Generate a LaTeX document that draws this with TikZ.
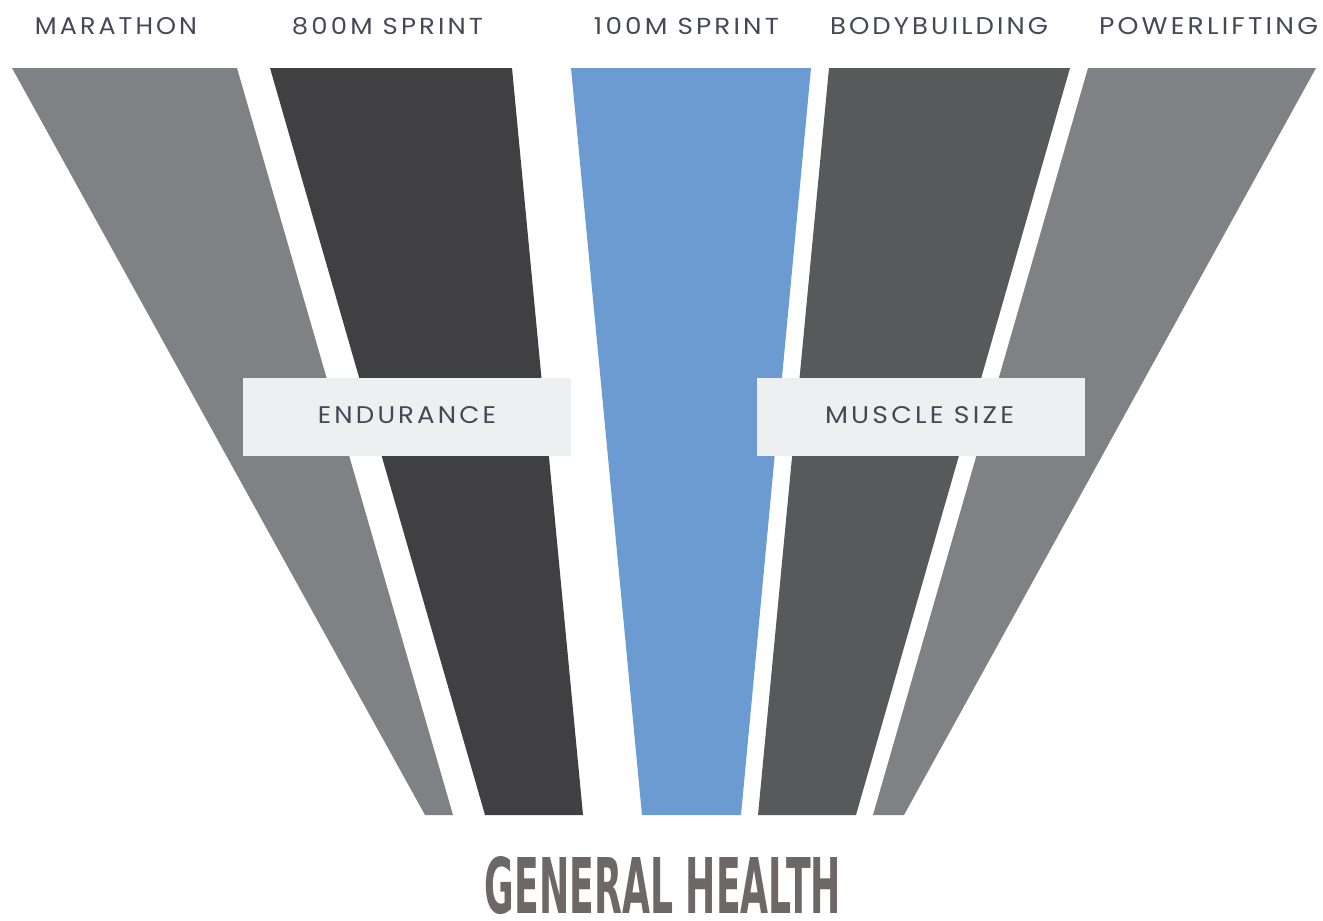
\documentclass[tikz,border=0pt]{standalone}
\usepackage{fontspec}
\usepackage{graphicx}
\setmainfont{Poppins}
\newfontfamily\lblfont[LetterSpace=12]{Poppins}
\newfontfamily\headfont{DejaVu Sans}
\definecolor{midgray}{HTML}{808184}
\definecolor{darkgray}{HTML}{404042}
\definecolor{bodygray}{HTML}{58595B}
\definecolor{sprintblue}{HTML}{6B9BD1}
\definecolor{boxgray}{HTML}{EEEFF1}
\definecolor{lbltext}{HTML}{434956}
\definecolor{healthtext}{HTML}{6D6767}
\newcommand{\fitlbl}[2]{\resizebox{#1pt}{17pt}{\lblfont #2}}
\tikzset{
  toplbl/.style={anchor=south, inner sep=0pt, text=lbltext},
  boxlbl/.style={anchor=south, inner sep=0pt, text=lbltext},
  infobox/.style={fill=boxgray, draw=none, minimum width=328pt, minimum height=78pt, inner sep=0pt},
}
\begin{document}
\begin{tikzpicture}[x=1pt,y=-1pt]
\useasboundingbox (0,0) rectangle (1323,921);
% bands
\fill[midgray]    (12,68) -- (237,68) -- (453,815) -- (425,815) -- cycle;
\fill[darkgray]   (270,68) -- (512,68) -- (583,815) -- (485,815) -- cycle;
\fill[sprintblue] (571,68) -- (811,68) -- (741,815) -- (642,815) -- cycle;
\fill[bodygray]   (829,68) -- (1070,68) -- (856,815) -- (758,815) -- cycle;
\fill[midgray]    (1088,68) -- (1316,68) -- (904,815) -- (873,815) -- cycle;
% top labels
\node[toplbl] (marathon) at (116,35) {\fitlbl{162}{MARATHON}};
\node[toplbl] (s800) at (387.5,35) {\fitlbl{191}{800M SPRINT}};
\node[toplbl] (s100) at (686.5,35) {\fitlbl{185}{100M SPRINT}};
\node[toplbl] (body) at (939,35) {\fitlbl{218}{BODYBUILDING}};
\node[toplbl] (power) at (1208.5,35) {\fitlbl{219}{POWERLIFTING}};
% boxes
\node[infobox] (endbox) at (407,417) {};
\node[infobox] (musbox) at (921,417) {};
\node[boxlbl] (endlbl) at (407,424) {\fitlbl{178}{ENDURANCE}};
\node[boxlbl] (muslbl) at (919.5,424) {\fitlbl{189}{MUSCLE SIZE}};
% bottom title
\node[anchor=south, inner sep=0pt, text=healthtext] (health) at (663,915)
  {\resizebox{356pt}{57pt}{\headfont\bfseries GENERAL HEALTH}};
\end{tikzpicture}
\end{document}
